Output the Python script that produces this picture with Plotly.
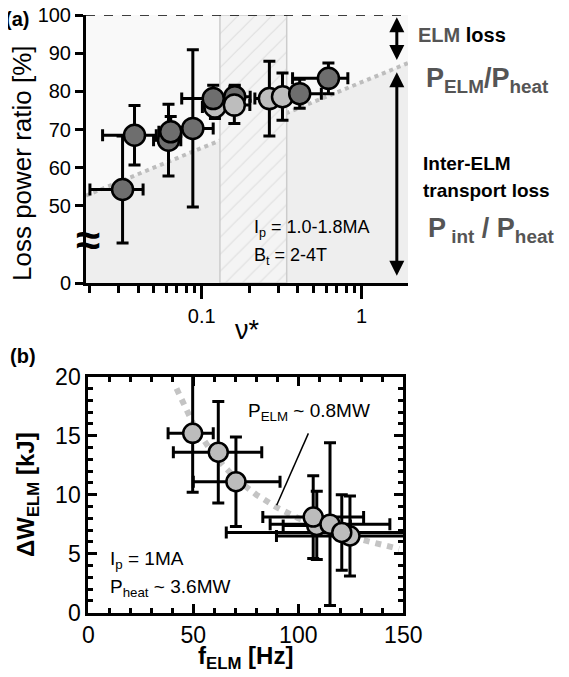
import plotly.graph_objects as go
import math

# ---------------- data: panel (a) ----------------
nu = [0.032, 0.038, 0.062, 0.064, 0.088, 0.121, 0.118, 0.161, 0.160, 0.265, 0.32, 0.41, 0.62]
ratio = [54.3, 68.5, 67.2, 69.4, 70.3, 75.9, 78.1, 78.6, 76.4, 78.1, 78.6, 79.4, 83.4]
shade = ['dark', 'dark', 'dark', 'dark', 'dark', 'light', 'dark', 'dark', 'light', 'light', 'light', 'dark', 'dark']
ratio_err = [14, 7.8, 9.4, 4, 20.6, 3, 3.5, 3, 4.8, 9.8, 6.2, 3.8, 4]
nu_err_lo = [0.012, 0.014, 0.012, 0.01, 0.02, 0.02, 0.043, 0.03, 0.03, 0.05, 0.06, 0.11, 0.25]
nu_err_hi = [0.011, 0.014, 0.012, 0.01, 0.03, 0.03, 0.03, 0.04, 0.04, 0.06, 0.06, 0.15, 0.2]
fit_nu = [0.0189, 1.95]
fit_ratio = [52.7, 87.4]
hatch_band = [0.13, 0.34]
ytick_vals = [0, 50, 60, 70, 80, 90, 100]
ZERO_DISPLAY = 29.8   # where the broken axis puts "0"

# ---------------- data: panel (b) ----------------
f_elm = [49.7, 61.9, 70.3, 108.8, 107.1, 124.6, 115.1, 120.7]
dW = [15.2, 13.6, 11.1, 7.4, 8.1, 6.5, 7.5, 6.8]
dW_err = [5.0, 4.3, 3.8, 2.9, 3.5, 3.4, 6.9, 3.2]
f_err_lo = [11.7, 21.4, 20.3, 16, 24, 35, 28.5, 55]
f_err_hi = [9.8, 20.7, 21.0, 16, 24, 35, 28.5, 55]
curve_f = [42, 50, 60, 70, 80, 90, 100, 110, 120, 130, 140, 148]
curve_dW = [19.0, 16.0, 13.3, 11.4, 10.0, 8.9, 8.0, 7.3, 6.7, 6.2, 5.7, 5.4]
leader_f = [89.7, 104.8]
leader_dW = [9.1, 15.2]

OFF = 8  # page body margin of the html page
W, H = 569 - OFF, 677 - OFF
FONT = "Liberation Sans, Arial, Helvetica, sans-serif"
DARK = '#6e6e6e'
LIGHT = '#bdbdbd'


def px(x):
    return (x - OFF) / W


def py(y):
    return 1 - (y - OFF) / H


def disp(v):
    return ZERO_DISPLAY if v == 0 else v


fig = go.Figure()

# --- panel (a) background pieces
fig.add_trace(go.Scatter(x=fit_nu, y=fit_ratio, mode='lines', fill='tozeroy',
                         fillcolor='#eeeeee', line=dict(width=0), hoverinfo='skip',
                         showlegend=False, xaxis='x', yaxis='y'))
fig.add_trace(go.Scatter(x=fit_nu, y=fit_ratio, mode='lines',
                         line=dict(color='#bdbdbd', width=4, dash='dot'),
                         showlegend=False, xaxis='x', yaxis='y'))
fig.add_trace(go.Scatter(x=[hatch_band[0], hatch_band[0], hatch_band[1], hatch_band[1], hatch_band[0]],
                         y=[ZERO_DISPLAY, 100, 100, ZERO_DISPLAY, ZERO_DISPLAY],
                         mode='lines', fill='toself',
                         fillcolor='#f4f4f4',
                         fillpattern=dict(shape='/', fgcolor='#c9c9c9', bgcolor='#f4f4f4',
                                          size=12, solidity=0.1),
                         line=dict(color='#cccccc', width=1.5),
                         showlegend=False, xaxis='x', yaxis='y'))

fig.add_trace(go.Scatter(
    x=nu, y=ratio, mode='markers',
    marker=dict(size=21, color=[DARK if s == 'dark' else LIGHT for s in shade],
                line=dict(color='black', width=2.5)),
    error_y=dict(type='data', array=ratio_err, color='black', thickness=3, width=6),
    error_x=dict(type='data', array=nu_err_hi, arrayminus=nu_err_lo, color='black',
                 thickness=3, width=6),
    showlegend=False, xaxis='x', yaxis='y'))

# --- panel (b)
fig.add_trace(go.Scatter(x=curve_f, y=curve_dW, mode='lines',
                         line=dict(color='#c4c4c4', width=6, dash='dot'),
                         showlegend=False, xaxis='x2', yaxis='y2'))
fig.add_trace(go.Scatter(
    x=f_elm, y=dW, mode='markers',
    marker=dict(size=19, color='#bcbcbc', line=dict(color='black', width=2.5)),
    error_y=dict(type='data', array=dW_err, color='black', thickness=3, width=6),
    error_x=dict(type='data', array=f_err_hi, arrayminus=f_err_lo, color='black',
                 thickness=3, width=6),
    showlegend=False, xaxis='x2', yaxis='y2'))

minor_nu = [v * 10 ** e for e in (-2, -1, 0) for v in range(2, 10)]

fig.update_layout(
    width=W, height=H, margin=dict(l=0, r=0, t=0, b=0, autoexpand=False),
    paper_bgcolor='white', plot_bgcolor='white',
    font=dict(family=FONT, size=20, color='black'),
    xaxis=dict(domain=[px(86), px(408)], type='log', automargin=False,
               range=[math.log10(fit_nu[0]), math.log10(fit_nu[1])],
               tickmode='array', tickvals=[0.1, 1], ticktext=['0.1', '1'],
               ticks='outside', ticklen=13, tickwidth=3, tickcolor='black',
               minor=dict(tickmode='array', tickvals=minor_nu, ticks='outside',
                          ticklen=7, tickwidth=3, tickcolor='black'),
               showline=True, linewidth=3, linecolor='black', showgrid=False,
               zeroline=False, anchor='y', tickfont=dict(size=20)),
    yaxis=dict(domain=[py(283), py(15)], range=[ZERO_DISPLAY, 100], automargin=False,
               tickmode='array', tickvals=[disp(v) for v in ytick_vals],
               ticktext=[str(v) for v in ytick_vals], ticklabeloverflow='allow',
               ticks='outside', ticklen=8, tickwidth=3, tickcolor='black',
               showline=True, linewidth=3, linecolor='black', showgrid=False,
               zeroline=False, anchor='x', tickfont=dict(size=20)),
    xaxis2=dict(domain=[px(88.3), px(403.3)], range=[0, 150], automargin=False,
                tickmode='linear', tick0=0, dtick=50,
                ticks='inside', ticklen=9, tickwidth=3, tickcolor='black',
                minor=dict(dtick=10, ticks='inside', ticklen=5, tickwidth=2.5, tickcolor='black'),
                showline=True, linewidth=3, linecolor='black', mirror='ticks',
                showgrid=False, zeroline=False, anchor='y2', tickfont=dict(size=23)),
    yaxis2=dict(domain=[py(612.7), py(376.7)], range=[0, 20], automargin=False,
                tickmode='linear', tick0=0, dtick=5,
                ticks='inside', ticklen=9, tickwidth=3, tickcolor='black',
                minor=dict(dtick=1, ticks='inside', ticklen=5, tickwidth=2.5, tickcolor='black'),
                showline=True, linewidth=3, linecolor='black', mirror='ticks',
                showgrid=False, zeroline=False, anchor='x2', tickfont=dict(size=23)),
)

# background of panel (a) above fit line
fig.add_shape(type='rect', xref='x domain', yref='y domain', x0=0, x1=1, y0=0, y1=1,
              fillcolor='#f9f9f9', line=dict(width=0), layer='below')
# dashed line at 100 %
fig.add_shape(type='line', xref='x domain', yref='y', x0=0, x1=0.985, y0=100, y1=100,
              line=dict(color='black', width=1.5, dash='dash'))
# leader line in (b)
fig.add_shape(type='line', xref='x2', yref='y2', x0=leader_f[0], x1=leader_f[1],
              y0=leader_dW[0], y1=leader_dW[1], line=dict(color='black', width=1.5))

ann = []


def text(x, y, s, size=20, bold=False, color='black', xanchor='left', angle=0):
    ann.append(dict(x=px(x), y=py(y), xref='paper', yref='paper', text=s,
                    showarrow=False, xanchor=xanchor, yanchor='middle', textangle=angle,
                    font=dict(size=size, color=color, family=FONT)))


text(3, 19, '<b>(a)</b>', 20)
text(8, 356, '<b>(b)</b>', 20)
text(22, 163, 'Loss power ratio [%]', 26, xanchor='center', angle=-90)
text(247, 330, 'ν*', 27, xanchor='center')
text(28, 495, '<b>ΔW<sub>ELM</sub> [kJ]</b>', 24, xanchor='center', angle=-90)
text(245, 657, '<b>f<sub>ELM</sub> [Hz]</b>', 24, xanchor='center')
text(252, 228, 'I<sub>p</sub> = 1.0-1.8MA', 18)
text(252, 257, 'B<sub>t</sub> = 2-4T', 18)
text(108, 560, 'I<sub>p</sub> = 1MA', 19)
text(108, 588, 'P<sub>heat</sub> ~ 3.6MW', 19)
text(246, 412, 'P<sub>ELM</sub> ~ 0.8MW', 19)
GRAYT = '#555555'
text(416, 35, '<b><span style="color:#555555">ELM</span> loss</b>', 20)
text(424, 80, '<b>P<sub>ELM</sub>/P<sub>heat</sub></b>', 27, color=GRAYT)
text(421, 163, '<b>Inter-ELM</b>', 19)
text(421, 190, '<b>transport loss</b>', 19)
text(426, 230, '<b>P<sub> int</sub> / P<sub>heat</sub></b>', 27, color=GRAYT)
text(88, 240, '<b>≈</b>', 44, xanchor='center')

# double-headed arrows on right side of (a)
arrow_x = math.log10(1.66)
for y_tip, y_tail in [(99.4, 87.8), (85.0, 31.3)]:
    ann.append(dict(x=arrow_x, y=y_tip, ax=arrow_x, ay=y_tail, xref='x', yref='y',
                    axref='x', ayref='y', text='', showarrow=True, arrowhead=2,
                    startarrowhead=2, arrowside='end+start', arrowsize=1, arrowwidth=3,
                    arrowcolor='black'))

fig.update_layout(annotations=ann)
fig.write_html("out.html")
